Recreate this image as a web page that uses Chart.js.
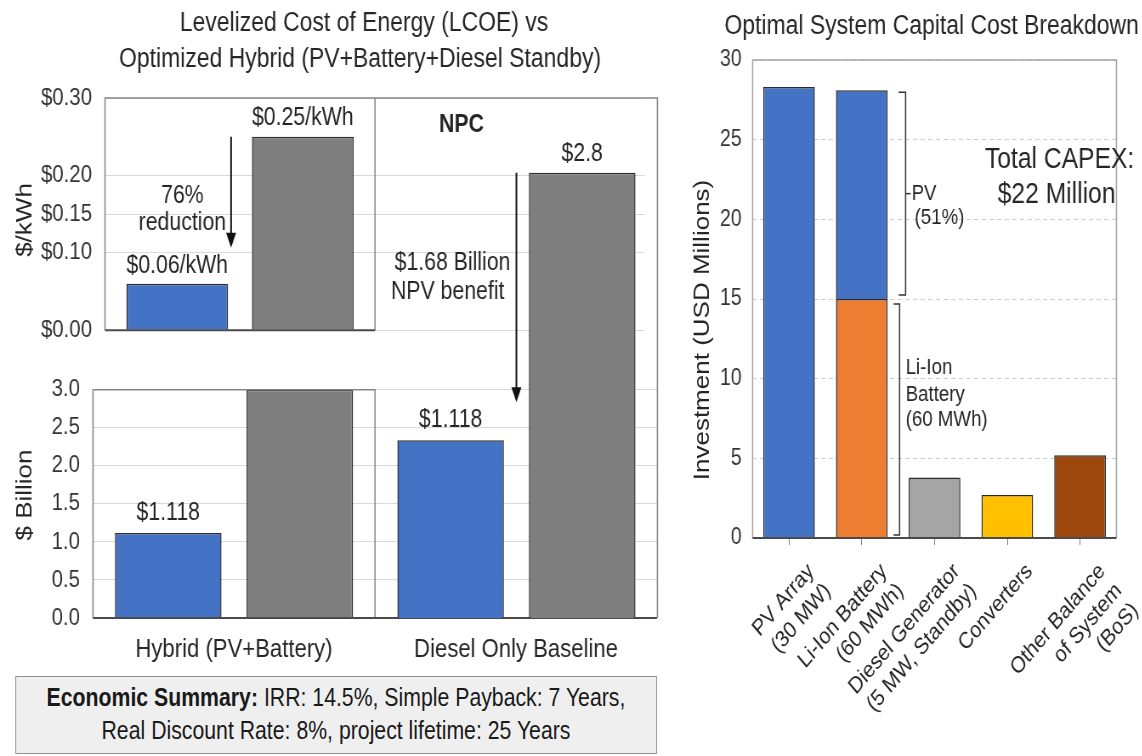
<!DOCTYPE html>
<html>
<head>
<meta charset="utf-8">
<title>LCOE / NPC and CAPEX breakdown</title>
<script src="https://cdn.jsdelivr.net/npm/chart.js@4.4.1/dist/chart.umd.min.js"></script>
<style>
  html, body { margin: 0; padding: 0; background: #fff; overflow: hidden; }
  /* the whole figure is laid out in a wider space and narrowed horizontally */
  #page { position: absolute; left: 0; top: 0; width: 1344px; height: 756px;
          transform: scaleX(0.85); transform-origin: 0 0; }
  #page canvas { position: absolute; }
  #summary { position: absolute; box-sizing: border-box; background: #efefef;
             border: 1.5px solid #8f8f8f; color: #1a1a1a; text-align: center;
             font: 25px/33px 'Liberation Sans', Arial, Helvetica, sans-serif; padding-top: 4px; }
</style>
</head>
<body>
<div id="page">
  <div id="summary"><b>Economic Summary:</b> IRR: 14.5%, Simple Payback: 7 Years,<br>Real Discount Rate: 8%, project lifetime: 25 Years</div>
</div>
<script>
// ---- data ----
const lcoeCategories = ['LCOE', 'NPC'];
const lcoeHybrid = [0.06, null];          // $/kWh
const lcoeDiesel = [0.25, null];          // $/kWh
const lcoeTicks = [0, 0.10, 0.15, 0.20, 0.30];

const npcCategories = ['Hybrid (PV+Battery)', 'Diesel Only Baseline'];
const npcLowBlue = [1.118, null];         // $ billion
const npcLowGray = [3.0, null];           // $ billion (runs to the top of the axis)

const npcHighCategories = ['NPC'];
const npcHighBlue = [1.118];              // $ billion
const npcHighGray = [2.8];                // $ billion

const capexCategories = [
  ['PV Array', '(30 MW)'],
  ['Li-Ion Battery', '(60 MWh)'],
  ['Diesel Generator', '(5 MW, Standby)'],
  'Converters',
  ['Other Balance', 'of System', '(BoS)']
];
const capexBase = [28.3, 15.0, 3.8, 2.7, 5.2];        // USD millions
const capexPvShare = [null, 13.1, null, null, null];  // PV part stacked on the battery column

// ---- styling ----
const S = 0.85;                 // horizontal squeeze applied to #page
const X = v => v / S;           // page x -> layout x
const FONT = "'Liberation Sans', Arial, Helvetica, sans-serif";
const BLUE = '#4472C4', DGRAY = '#7F7F7F', EDGE = '#2b2b2b';
const capexColors = ['#4472C4', '#ED7D31', '#A5A5A5', '#FFC000', '#9E480E'];
const INK = '#262626';

Chart.defaults.font.family = FONT;
Chart.defaults.color = '#333';
Chart.defaults.animation = false;

const summary = document.getElementById('summary');
Object.assign(summary.style, { left: X(15) + 'px', top: '676px', width: X(642) + 'px', height: '78px' });

function makeCanvas(id, left, top, width, height) {
  const c = document.createElement('canvas');
  c.id = id;
  c.width = Math.round(X(width));
  c.height = height;
  c.style.left = X(left) + 'px';
  c.style.top = top + 'px';
  c.style.width = c.width + 'px';
  c.style.height = height + 'px';
  document.getElementById('page').appendChild(c);
  return c;
}

function text(ctx, str, x, y, o = {}) {
  ctx.save();
  ctx.font = `${o.weight || 'normal'} ${o.size || 22}px ${FONT}`;
  ctx.fillStyle = o.color || INK;
  ctx.textAlign = o.align || 'center';
  ctx.textBaseline = 'middle';
  ctx.translate(x, y);
  if (o.rotate) ctx.rotate(o.rotate);
  ctx.fillText(str, 0, 0);
  ctx.restore();
}

function polyline(ctx, pts, color, width) {
  ctx.save();
  ctx.strokeStyle = color;
  ctx.lineWidth = width;
  ctx.beginPath();
  pts.forEach((p, i) => (i ? ctx.lineTo(p[0], p[1]) : ctx.moveTo(p[0], p[1])));
  ctx.stroke();
  ctx.restore();
}

function arrowDown(ctx, x, y1, y2) {
  ctx.save();
  ctx.strokeStyle = '#111';
  ctx.fillStyle = '#111';
  ctx.lineWidth = 2;
  ctx.beginPath(); ctx.moveTo(x, y1); ctx.lineTo(x, y2 - 12); ctx.stroke();
  ctx.beginPath();
  ctx.moveTo(x - X(5), y2 - 15); ctx.lineTo(x + X(5), y2 - 15); ctx.lineTo(x, y2);
  ctx.closePath(); ctx.fill();
  ctx.restore();
}

const barBase = { borderColor: EDGE, borderWidth: 1.5 };
const quiet = { legend: { display: false }, tooltip: { enabled: false } };

// ---- LCOE panel (top left) ----
const cT = makeCanvas('lcoe', 0, 0, 660, 360);
new Chart(cT, {
  type: 'bar',
  data: {
    labels: lcoeCategories,
    datasets: [
      { label: 'Hybrid (PV+Battery)', data: lcoeHybrid, backgroundColor: BLUE, ...barBase },
      { label: 'Diesel Only Baseline', data: lcoeDiesel, backgroundColor: DGRAY, ...barBase }
    ]
  },
  options: {
    responsive: false, devicePixelRatio: 1,
    layout: { padding: { top: 98, bottom: 17, left: 0, right: cT.width - X(645) } },
    datasets: { bar: { categoryPercentage: 0.93, barPercentage: 0.81 } },
    plugins: quiet,
    scales: {
      x: { display: false },
      y: {
        min: 0, max: 0.30,
        afterBuildTicks: s => { s.ticks = lcoeTicks.map(v => ({ value: v })); },
        afterFit: s => { s.width = X(105); },
        grid: { color: '#dadada', drawTicks: false },
        border: { display: false },
        ticks: { padding: X(13), font: { size: 24 }, callback: v => '$' + Number(v).toFixed(2) }
      }
    }
  },
  plugins: [{
    id: 'lcoeDecor',
    afterDatasetsDraw(chart) {
      const { ctx, chartArea: ca } = chart;
      const mid = (ca.left + ca.right) / 2;
      polyline(ctx, [[ca.left, ca.bottom], [ca.left, ca.top], [mid, ca.top], [mid, ca.bottom]], '#858585', 1.5);
      polyline(ctx, [[ca.left, ca.bottom], [mid, ca.bottom]], '#4a4a4a', 2);

      text(ctx, 'Levelized Cost of Energy (LCOE) vs', X(364), 24, { size: 27 });
      text(ctx, 'Optimized Hybrid (PV+Battery+Diesel Standby)', X(360), 60, { size: 27 });
      text(ctx, '$/kWh', X(25), 220, { size: 26, rotate: -Math.PI / 2 });

      const hyb = chart.getDatasetMeta(0).data[0];
      const die = chart.getDatasetMeta(1).data[0];
      text(ctx, '$' + lcoeDiesel[0].toFixed(2) + '/kWh', die.x, die.y - 19, { size: 25 });
      const hybLabelY = hyb.y - 18;
      text(ctx, '$' + lcoeHybrid[0].toFixed(2) + '/kWh', hyb.x, hybLabelY, { size: 25 });

      const ax = hyb.x + hyb.width / 2 + X(3);
      const aEnd = hybLabelY - 18;
      arrowDown(ctx, ax, die.y, aEnd);
      ctx.save();
      ctx.font = `25px ${FONT}`;
      const cx = ax - X(5) - ctx.measureText('reduction').width / 2;
      ctx.restore();
      const am = (die.y + aEnd) / 2 + 18;
      text(ctx, '76%', cx, am - 14, { size: 25 });
      text(ctx, 'reduction', cx, am + 13, { size: 25 });
    }
  }]
});

// ---- NPC panel (bottom left) ----
const cB = makeCanvas('npcLow', 0, 360, 660, 315);
new Chart(cB, {
  type: 'bar',
  data: {
    labels: npcCategories,
    datasets: [
      { label: 'Hybrid (PV+Battery)', data: npcLowBlue, backgroundColor: BLUE, ...barBase },
      { label: 'Diesel Only Baseline', data: npcLowGray, backgroundColor: DGRAY, ...barBase }
    ]
  },
  options: {
    responsive: false, devicePixelRatio: 1,
    layout: { padding: { top: 20, bottom: 0, left: 0, right: cB.width - X(657) } },
    datasets: { bar: { categoryPercentage: 0.933, barPercentage: 0.81 } },
    plugins: quiet,
    scales: {
      x: {
        grid: { display: false }, border: { display: false },
        ticks: { font: { size: 26 }, color: INK, padding: 8, maxRotation: 0, autoSkip: false },
        afterFit: s => { s.height = 57; }
      },
      y: {
        min: 0, max: 3,
        afterFit: s => { s.width = X(93); },
        grid: { color: '#dadada', drawTicks: false },
        border: { display: false },
        ticks: { stepSize: 0.5, padding: X(13), font: { size: 24 }, callback: v => Number(v).toFixed(1) }
      }
    }
  },
  plugins: [{
    id: 'npcLowDecor',
    afterDatasetsDraw(chart) {
      const { ctx, chartArea: ca } = chart;
      const mid = (ca.left + ca.right) / 2;
      polyline(ctx, [[ca.left, ca.bottom], [ca.left, ca.top], [mid, ca.top], [mid, ca.bottom]], '#858585', 1.5);
      polyline(ctx, [[ca.left, ca.bottom], [ca.right, ca.bottom]], '#4a4a4a', 2);
      text(ctx, '$ Billion', X(25), 135, { size: 26, rotate: -Math.PI / 2 });
      const hyb = chart.getDatasetMeta(0).data[0];
      text(ctx, '$' + npcLowBlue[0], hyb.x, hyb.y - 20, { size: 25 });
    }
  }]
});

// ---- NPC panel (right half, taller scale) ----
const cR = makeCanvas('npcHigh', 360, 80, 300, 550);
new Chart(cR, {
  type: 'bar',
  data: {
    labels: npcHighCategories,
    datasets: [
      { label: 'Hybrid (PV+Battery)', data: npcHighBlue, backgroundColor: BLUE, ...barBase },
      { label: 'Diesel Only Baseline', data: npcHighGray, backgroundColor: DGRAY, ...barBase }
    ]
  },
  options: {
    responsive: false, devicePixelRatio: 1,
    layout: { padding: { top: 18, bottom: 12, left: X(15), right: cR.width - (X(657) - X(360)) } },
    datasets: { bar: { categoryPercentage: 0.933, barPercentage: 0.81 } },
    plugins: quiet,
    scales: {
      x: { display: false },
      y: { display: false, min: 0, max: 3.27 }
    }
  },
  plugins: [{
    id: 'npcHighDecor',
    afterDatasetsDraw(chart) {
      const { ctx, chartArea: ca } = chart;
      polyline(ctx, [[ca.left, ca.top], [ca.right, ca.top], [ca.right, ca.bottom]], '#858585', 1.5);
      const blue = chart.getDatasetMeta(0).data[0];
      const gray = chart.getDatasetMeta(1).data[0];
      text(ctx, 'NPC', X(461 - 360), 45, { size: 25, weight: 'bold' });
      text(ctx, '$' + npcHighGray[0], gray.x, gray.y - 19, { size: 25 });
      const blueLabelY = blue.y - 20;
      text(ctx, '$' + npcHighBlue[0], blue.x, blueLabelY, { size: 25 });

      const ax = (blue.x + blue.width / 2 + gray.x - gray.width / 2) / 2;
      arrowDown(ctx, ax, gray.y, blueLabelY - 18);
      text(ctx, '$1.68 Billion', ax - X(6), 183, { size: 25, align: 'right' });
      text(ctx, 'NPV benefit', ax - X(12), 212, { size: 25, align: 'right' });
    }
  }]
});

// ---- capital cost breakdown (right) ----
const cC = makeCanvas('capex', 660, 0, 482, 756);
new Chart(cC, {
  type: 'bar',
  data: {
    labels: capexCategories,
    datasets: [
      { label: 'Component cost', data: capexBase, backgroundColor: capexColors, ...barBase },
      { label: 'PV share', data: capexPvShare, backgroundColor: BLUE, ...barBase }
    ]
  },
  options: {
    responsive: false, devicePixelRatio: 1,
    layout: { padding: { top: 60, bottom: 0, left: 0, right: cC.width - X(475) } },
    datasets: { bar: { categoryPercentage: 1, barPercentage: 0.71 } },
    plugins: quiet,
    scales: {
      x: {
        stacked: true,
        grid: { display: true, drawOnChartArea: false, offset: false, tickLength: 7, color: '#7f7f7f' },
        border: { display: false },
        ticks: { font: { size: 23 }, color: INK, maxRotation: 45, minRotation: 45, autoSkip: false, padding: 13, labelOffset: 26 },
        afterFit: s => { s.height = 756 - 538; }
      },
      y: {
        stacked: true, min: 0, max: 30,
        afterFit: s => { s.width = X(93); },
        grid: { color: '#cdcdcd', drawTicks: false },
        border: { display: false, dash: [5, 4] },
        ticks: { stepSize: 5, padding: X(11), font: { size: 23 } }
      }
    }
  },
  plugins: [{
    id: 'capexDecor',
    afterDatasetsDraw(chart) {
      const { ctx, chartArea: ca } = chart;
      const y = chart.scales.y;
      polyline(ctx, [[ca.left, ca.bottom], [ca.left, ca.top], [ca.right, ca.top], [ca.right, ca.bottom]], '#a3a3a3', 1.5);
      polyline(ctx, [[ca.left, ca.bottom], [ca.right, ca.bottom]], '#4a4a4a', 2);

      text(ctx, 'Optimal System Capital Cost Breakdown', X(272), 27, { size: 27 });
      text(ctx, 'Investment (USD Millions)', X(43), 330, { size: 26, rotate: -Math.PI / 2 });

      const bat = chart.getDatasetMeta(0).data[1];
      const pv = chart.getDatasetMeta(1).data[1];
      const right = bat.x + bat.width / 2;
      const split = y.getPixelForValue(capexBase[1]);

      // PV bracket
      const bx1 = right + X(18), t1 = pv.y + 2, b1 = split - 4, m1 = (t1 + b1) / 2;
      polyline(ctx, [[bx1 - X(7), t1], [bx1, t1], [bx1, b1], [bx1 - X(7), b1]], '#333', 1.5);
      polyline(ctx, [[bx1, m1], [bx1 + X(5), m1]], '#333', 1.5);
      text(ctx, 'PV', bx1 + X(6), m1, { size: 22, align: 'left' });
      text(ctx, '(51%)', bx1 + X(9), m1 + 24, { size: 22, align: 'left' });

      // battery bracket
      const bx2 = right + X(12), t2 = split + 5, b2 = y.getPixelForValue(0) - 3;
      polyline(ctx, [[bx2 - X(6), t2], [bx2, t2], [bx2, b2], [bx2 - X(6), b2]], '#333', 1.5);
      text(ctx, 'Li-Ion', bx2 + X(6), t2 + 64, { size: 22, align: 'left' });
      text(ctx, 'Battery', bx2 + X(6), t2 + 91, { size: 22, align: 'left' });
      text(ctx, '(60 MWh)', bx2 + X(6), t2 + 116, { size: 22, align: 'left' });

      text(ctx, 'Total CAPEX:', X(400), 160, { size: 29 });
      text(ctx, '$22 Million', X(397), 195, { size: 29 });
    }
  }]
});
</script>
</body>
</html>
